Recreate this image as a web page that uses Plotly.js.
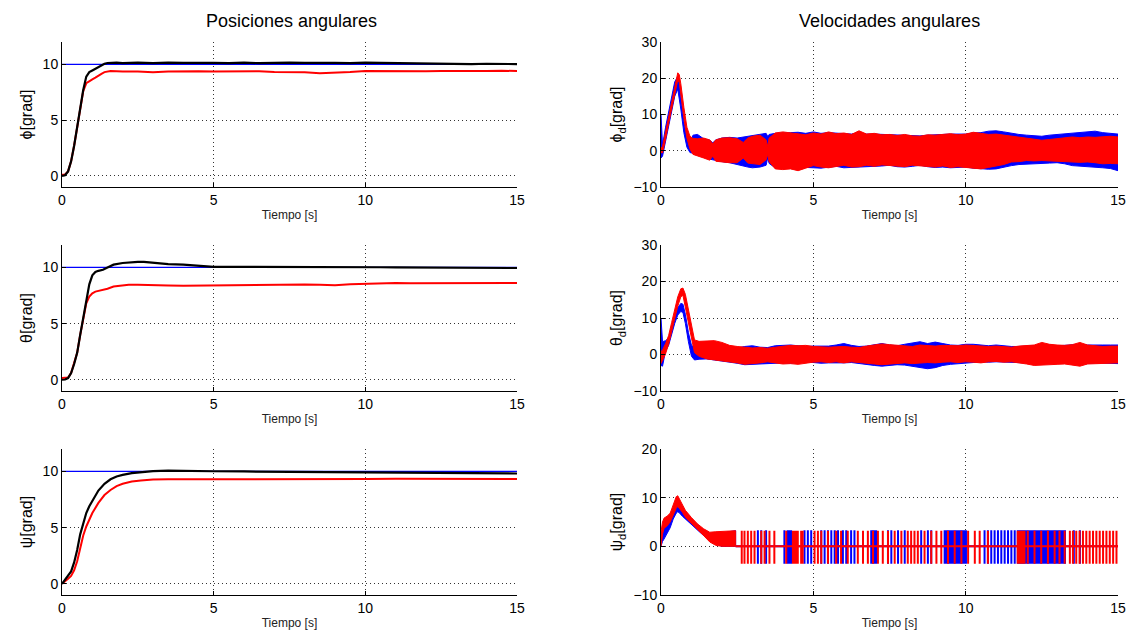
<!DOCTYPE html>
<html><head><meta charset="utf-8">
<script src="https://cdn.plot.ly/plotly-3.0.1.min.js"></script>
<style>html,body{margin:0;padding:0;background:#fff}#plot{width:1135px;height:635px}</style>
</head><body><div id="plot"></div>
<script>
// ---------------- DATA ----------------
var refValue = 10;
var refT = [0, 15];

// Positions: phi
var tPhi = [0,0.1,0.2,0.3,0.4,0.5,0.6,0.7,0.8,0.9,1.0,1.1,1.2,1.3,1.4,1.5,1.6,1.8,2.0,2.5,3,3.5,4,4.5,5,5.5,6,6.5,7,7.5,8,8.5,9,9.5,10,10.5,11,11.5,12,12.5,13,13.5,14,14.5,15];
var phiBlack = [0,0.05,0.4,1.3,2.7,4.4,6.0,7.7,8.9,9.3,9.45,9.6,9.75,9.9,10.05,10.12,10.15,10.15,10.1,10.15,10.1,10.15,10.12,10.15,10.12,10.1,10.15,10.1,10.15,10.15,10.12,10.15,10.12,10.1,10.15,10.12,10.1,10.1,10.05,10.05,10.05,10.02,10.05,10.02,10.02];
var phiRed = [0.1,0.12,0.4,1.3,2.7,4.4,6.0,7.6,8.3,8.5,8.65,8.8,9.0,9.15,9.3,9.38,9.4,9.38,9.35,9.35,9.28,9.35,9.38,9.38,9.35,9.38,9.36,9.38,9.3,9.32,9.28,9.2,9.22,9.3,9.4,9.38,9.4,9.4,9.38,9.4,9.38,9.4,9.4,9.42,9.4];

// Positions: theta
var tTheta = [0,0.1,0.2,0.3,0.4,0.5,0.6,0.7,0.8,0.9,1.0,1.1,1.2,1.35,1.5,1.7,2.0,2.2,2.5,2.7,3.0,3.5,4.0,4.5,5,5.5,6,6.5,7,7.5,8,8.5,9,9.5,10,10.5,11,11.5,12,12.5,13,13.5,14,14.5,15];
var thetaBlack = [0,0.02,0.15,0.6,1.4,2.4,4.0,5.5,7.1,8.5,9.3,9.6,9.7,9.8,10.0,10.25,10.4,10.45,10.5,10.5,10.42,10.3,10.25,10.15,10.05,10.05,10.05,10.08,10.05,10.05,10.08,10.05,10.02,10.05,10.05,10.02,10.0,10.0,9.95,9.95,9.97,9.95,9.97,9.97,9.95];
var thetaRed = [0.15,0.15,0.2,0.6,1.4,2.4,4.0,5.4,6.8,7.4,7.7,7.85,7.9,8.0,8.1,8.3,8.4,8.45,8.45,8.45,8.45,8.4,8.38,8.4,8.4,8.42,8.45,8.48,8.5,8.5,8.48,8.45,8.42,8.5,8.55,8.6,8.62,8.6,8.6,8.6,8.6,8.6,8.6,8.62,8.62];

// Positions: psi
var tPsi = [0,0.1,0.2,0.3,0.4,0.5,0.6,0.7,0.8,0.9,1.0,1.2,1.4,1.6,1.8,2.0,2.3,2.6,3.0,3.5,4,5,6,7,8,9,10,11,12,13,14,15];
var psiBlack = [0,0.35,0.7,1.1,1.9,3.0,4.4,5.4,6.3,6.9,7.4,8.3,8.9,9.3,9.55,9.7,9.85,9.95,10.03,10.08,10.08,10.02,10.0,9.98,9.98,9.97,9.95,9.93,9.88,9.85,9.85,9.82];
var psiRed = [0,0.2,0.45,0.7,1.2,2.0,3.2,4.3,5.1,5.7,6.3,7.2,7.9,8.35,8.7,8.9,9.1,9.2,9.28,9.3,9.3,9.3,9.3,9.28,9.3,9.3,9.32,9.35,9.33,9.33,9.33,9.33];

// Velocities: phi_d (envelopes of the noisy bands)
var tPhiD = [0,0.05,0.15,0.25,0.35,0.45,0.55,0.6,0.65,0.75,0.85,0.95,1.05,1.2,1.4,1.6,1.7,1.8,2.0,2.25,2.5,2.7,2.85,3.0,3.25,3.45,3.5,3.55,3.75,4.0,4.25,4.5,4.75,5.0,5.25,5.5,5.75,6.0,6.25,6.5,6.75,7.0,7.25,7.5,7.75,8.0,8.25,8.5,8.75,9.0,9.25,9.5,9.75,10.0,10.25,10.5,10.75,11.0,11.25,11.5,11.75,12.0,12.25,12.5,12.75,13.0,13.25,13.5,13.75,14.0,14.25,14.5,14.75,15];
var phiDRedUp = [0.8,1.2,5.2,9.5,13.6,18.2,21.5,21,18.5,12,6.5,4,3.4,3.3,3.5,3.0,1.9,3.0,3.5,3.6,3.3,2.3,3.5,4.0,4.3,3.0,1.2,3.5,4.9,5.2,4.9,4.8,4.4,4.9,4.6,5.2,4.7,4.9,4.5,5.5,4.6,4.8,4.4,4.5,4.2,4.5,4.1,4.0,4.4,4.3,4.6,4.7,4.4,4.6,5.1,4.7,4.5,4.6,4.3,4.0,3.6,3.3,3.2,2.9,3.1,3.3,3.4,3.8,3.6,3.8,3.7,3.8,4.0,3.8];
var phiDRedLo = [-0.5,-0.6,3.2,7.5,11.4,15.8,19.5,18.8,15.5,9,3.5,0.5,-1.0,-1.5,-2.0,-2.6,-1.5,-2.9,-3.1,-3.3,-3.3,-2.0,-3.4,-3.6,-3.8,-2.5,-1.0,-3.0,-5.0,-5.2,-5.0,-5.5,-4.8,-4.1,-4.5,-4.7,-4.3,-4.0,-4.5,-4.4,-4.0,-4.3,-3.9,-4.0,-4.3,-4.4,-4.0,-4.0,-4.3,-4.5,-4.2,-4.6,-4.4,-4.5,-4.8,-5.0,-4.6,-4.1,-3.8,-3.1,-3.0,-2.7,-2.8,-2.7,-2.6,-2.7,-2.9,-3.1,-3.2,-3.1,-3.3,-3.6,-3.5,-3.6];
var phiDBlueUp = [10,1.5,6.5,10.5,15,19,20.5,19,15,8,3.5,2,4.3,4.5,3.3,2.9,2.2,3.0,3.5,3.7,3.5,3.8,4.0,4.3,4.6,4.8,4.0,4.5,4.8,5.0,5.0,5.1,4.8,5.2,4.8,5.0,4.8,4.8,4.6,5.0,4.6,4.6,4.5,4.4,4.3,4.4,4.2,4.1,4.3,4.3,4.5,4.6,4.5,4.6,4.9,5.0,5.4,5.5,5.2,4.8,4.5,4.3,4.2,4.0,4.3,4.5,4.6,4.8,5.0,5.2,5.4,5.0,4.9,4.6];
var phiDBlueLo = [-2,-1.5,3,7,11,15,17,15,11.5,5,1,-0.5,-0.8,-1.0,-1.8,-2.3,-2.5,-2.8,-3.0,-3.3,-3.6,-4.2,-4.5,-4.7,-4.5,-4.0,-2.0,-3.5,-4.7,-4.8,-5.0,-5.0,-4.6,-4.7,-4.8,-4.5,-4.3,-4.7,-4.5,-4.6,-4.5,-4.3,-4.2,-4.0,-4.4,-4.5,-4.3,-4.0,-4.4,-4.6,-4.5,-4.7,-4.6,-4.5,-4.8,-5.0,-5.1,-5.0,-4.6,-4.1,-3.8,-3.6,-3.6,-3.5,-3.4,-3.3,-3.6,-4.1,-4.3,-4.5,-4.6,-4.7,-4.9,-5.5];

// Velocities: theta_d
var tThetaD = [0,0.05,0.15,0.25,0.35,0.45,0.55,0.65,0.72,0.8,0.9,1.0,1.1,1.25,1.5,1.75,2.0,2.25,2.5,2.75,3.0,3.25,3.5,3.75,4.0,4.25,4.5,4.75,5.0,5.25,5.5,5.75,6.0,6.25,6.5,6.75,7.0,7.25,7.5,7.75,8.0,8.25,8.5,8.75,9.0,9.25,9.5,9.75,10.0,10.25,10.5,10.75,11.0,11.25,11.5,11.75,12.0,12.25,12.5,12.75,13.0,13.25,13.5,13.75,14.0,14.25,14.5,14.75,15];
var thetaDRedUp = [0.8,1.2,3,5.2,8.8,12.2,15.8,18,18.2,16.5,12,7.5,4,3.6,3.6,3.8,3.3,2.5,2.2,2.0,1.8,1.9,1.7,2.0,2.3,2.5,2.4,2.5,2.2,2.0,2.0,2.1,2.2,2.0,1.9,2.3,2.6,2.9,2.7,2.5,2.4,2.2,2.6,2.5,2.3,2.5,2.4,2.4,2.6,2.4,2.3,2.2,2.3,2.1,2.0,2.3,2.5,2.6,3.3,2.8,2.6,2.5,2.7,3.3,2.6,2.4,2.2,2.3,2.3];
var thetaDRedLo = [-2.5,-1.5,0.2,2.8,6.2,9.8,13.2,15.8,16.2,13.5,9,4.5,0.5,-0.5,-1.2,-1.3,-1.7,-2.0,-2.3,-2.7,-2.5,-2.3,-2.0,-2.3,-2.6,-2.5,-2.7,-2.3,-2.1,-2.0,-2.2,-2.0,-2.3,-2.0,-2.2,-2.4,-2.6,-2.8,-2.6,-2.4,-2.3,-2.5,-2.4,-2.2,-2.3,-2.1,-2.0,-2.2,-2.0,-2.1,-2.3,-2.0,-1.9,-2.1,-2.0,-2.3,-2.6,-3.0,-2.9,-2.8,-2.7,-2.6,-2.8,-3.2,-2.6,-2.5,-2.4,-2.4,-2.3];
var thetaDBlueUp = [10,3.5,3.8,4.5,7.5,10.5,12.8,14,13.8,11,6,2.5,2,2.5,2.5,2.8,2.5,2.0,1.8,2.2,2.4,2.0,1.9,2.4,2.6,2.6,2.4,2.2,2.3,2.2,2.3,2.6,3.0,2.5,2.2,2.3,2.6,3.0,2.6,2.4,2.8,3.2,3.5,3.0,3.4,3.0,2.6,2.5,2.8,2.8,2.6,2.4,2.6,2.3,2.2,2.2,2.3,2.4,2.8,2.5,2.4,2.5,2.6,2.8,2.6,2.7,2.6,2.6,2.6];
var thetaDBlueLo = [-3.0,-3.2,1.0,2.5,5.5,8.5,10.8,11.8,11.5,8.5,3.5,-0.5,-1.5,-1.3,-1.2,-1.5,-1.8,-2.0,-2.4,-2.8,-2.9,-2.7,-2.5,-2.4,-2.3,-2.4,-2.2,-2.0,-2.2,-2.4,-2.3,-2.2,-2.3,-2.2,-2.4,-2.8,-3.0,-3.2,-3.0,-2.8,-2.9,-3.3,-3.5,-3.9,-3.6,-3.0,-2.7,-2.5,-2.3,-2.2,-2.0,-2.1,-2.0,-2.2,-2.3,-2.2,-2.3,-2.6,-2.5,-2.6,-2.5,-2.4,-2.5,-2.6,-2.5,-2.3,-2.2,-2.4,-2.5];

// Velocities: psi_d (early band, then switching spikes around zero)
var tPsiD = [0,0.05,0.1,0.2,0.3,0.4,0.5,0.55,0.6,0.7,0.8,1.0,1.2,1.4,1.6,1.8,2.0,2.2,2.45];
var psiDRedUp = [3,5,5.8,6.2,6.8,8.5,10.2,10.4,9.8,8.6,7.4,5.9,4.6,3.6,2.9,3.0,3.1,3.2,3.2];
var psiDRedLo = [0,2.5,3.7,4.2,5.0,6.3,7.8,8.2,7.9,7.0,6.0,4.6,3.4,2.2,0.9,0.2,0,0,0];
var psiDBlueUp = [2,3.5,4.0,4.8,6.0,7.4,8.4,8.6,8.3,7.4,6.6,5.4,4.3,3.3,2.6,2.2,2.5,3.0,3.2];
var psiDBlueLo = [0,1.0,1.5,2.5,3.8,5.6,6.8,7.1,6.9,6.2,5.6,4.4,3.3,2.2,1.2,0.5,0,0,0];
var psiSpikeHi = 3.2, psiSpikeLo = -3.6;
var psiRedSpikes = [2.65,2.74,2.85,2.96,3.07,3.29,3.4,3.56,3.72,4.11,4.33,4.38,4.44,4.49,4.6,4.65,5.04,5.15,5.26,5.48,5.75,5.91,6.13,6.46,6.63,6.79,6.96,7.12,7.28,7.45,7.67,7.89,8.1,8.21,8.32,8.43,8.65,8.87,9.04,9.2,9.42,9.64,9.86,10.08,10.3,10.46,10.73,11.71,11.76,11.82,11.87,11.93,12.04,12.26,12.48,12.7,12.92,13.08,13.25,13.42,13.52,13.63,13.74,13.85,13.96,14.07,14.18,14.29,14.4,14.51,14.62,14.73,14.84,14.95];
var psiBlueSpikes = [3.18,3.29,3.45,4.05,4.16,4.22,4.27,4.71,4.82,4.93,5.26,5.37,5.48,5.59,5.70,5.81,5.97,6.08,6.24,6.35,6.90,6.96,7.01,7.06,7.45,7.56,7.78,8.00,8.54,8.76,8.87,9.31,9.36,9.41,9.46,9.51,9.56,9.61,9.66,9.71,9.76,9.81,9.86,9.91,9.96,10.01,10.62,10.73,10.84,10.95,11.06,11.17,11.28,11.39,11.50,11.61,11.71,11.76,11.81,11.86,11.91,11.96,12.01,12.06,12.11,12.16,12.21,12.26,12.31,12.36,12.41,12.46,12.51,12.56,12.61,12.66,12.71,12.76,12.81,12.86,12.91,12.96,13.01,13.06,13.11,13.16,13.21,13.26,13.55,13.75];

var colTitles = ['Posiciones angulares', 'Velocidades angulares'];
var xTitle = 'Tiempo [s]';
var yTitlesLeft = ['\u03d5[grad]', '\u03b8[grad]', '\u03c8[grad]'];
var yTitlesRight = ['\u03d5<sub>d</sub>[grad]', '\u03b8<sub>d</sub>[grad]', '\u03c8<sub>d</sub>[grad]'];

// ---------------- BUILD ----------------
var BLUE = '#0000ff', RED = '#ff0000', BLACK = '#000000';
var traces = [];
function line(x, y, color, w, xa, ya) {
  traces.push({x: x, y: y, mode: 'lines', line: {color: color, width: w}, xaxis: xa, yaxis: ya, hoverinfo: 'skip', showlegend: false});
}
function band(t, up, lo, color, xa, ya) {
  var rt = t.slice().reverse(), rl = lo.slice().reverse();
  traces.push({x: t.concat(rt), y: up.concat(rl), mode: 'lines', fill: 'toself', fillcolor: color,
    line: {color: color, width: 1}, xaxis: xa, yaxis: ya, hoverinfo: 'skip', showlegend: false});
}
function spikes(times, hi, lo, t0, t1, color, w, xa, ya) {
  var x = [t0], y = [0];
  times.forEach(function (t) { x.push(t, t, t, t); y.push(0, hi, lo, 0); });
  x.push(t1); y.push(0);
  traces.push({x: x, y: y, mode: 'lines', line: {color: color, width: w}, xaxis: xa, yaxis: ya, hoverinfo: 'skip', showlegend: false});
}
var ref = [refValue, refValue];

// Row 1
line(refT, ref, BLUE, 1.2, 'x', 'y');
line(tPhi, phiRed, RED, 2, 'x', 'y');
line(tPhi, phiBlack, BLACK, 2.2, 'x', 'y');
band(tPhiD, phiDBlueUp, phiDBlueLo, BLUE, 'x2', 'y2');
band(tPhiD, phiDRedUp, phiDRedLo, RED, 'x2', 'y2');
// Row 2
line(refT, ref, BLUE, 1.2, 'x3', 'y3');
line(tTheta, thetaRed, RED, 2, 'x3', 'y3');
line(tTheta, thetaBlack, BLACK, 2.2, 'x3', 'y3');
band(tThetaD, thetaDBlueUp, thetaDBlueLo, BLUE, 'x4', 'y4');
band(tThetaD, thetaDRedUp, thetaDRedLo, RED, 'x4', 'y4');
// Row 3
line(refT, ref, BLUE, 1.2, 'x5', 'y5');
line(tPsi, psiRed, RED, 2, 'x5', 'y5');
line(tPsi, psiBlack, BLACK, 2.2, 'x5', 'y5');
band(tPsiD, psiDBlueUp, psiDBlueLo, BLUE, 'x6', 'y6');
spikes(psiBlueSpikes, psiSpikeHi + 0.1, psiSpikeLo, 2.45, 15, BLUE, 2, 'x6', 'y6');
band(tPsiD, psiDRedUp, psiDRedLo, RED, 'x6', 'y6');
spikes(psiRedSpikes, psiSpikeHi, psiSpikeLo, 2.45, 15, RED, 2, 'x6', 'y6');

var W = 1135, H = 635;
var FONT = 'Liberation Sans, Arial, Helvetica, sans-serif';
var colX = [[62, 517], [661, 1118]];
var rowY = [[42, 187], [245, 391], [449, 595]];
function xd(c) { return [colX[c][0] / W, colX[c][1] / W]; }
function yd(r) { return [1 - rowY[r][1] / H, 1 - rowY[r][0] / H]; }
var GRID = '1px,3px';
function xax(c, r, anchor) {
  return {domain: xd(c), anchor: anchor, range: [0, 15], tickvals: [0, 5, 10, 15], ticktext: ['0','5','10','15'],
    showline: true, linecolor: BLACK, linewidth: 1, mirror: false, ticks: 'inside', ticklen: 4, tickcolor: BLACK,
    showgrid: true, gridcolor: '#333', gridwidth: 1, griddash: GRID, zeroline: false,
    tickfont: {family: FONT, size: 14, color: BLACK},
    title: {text: xTitle, font: {family: FONT, size: 12, color: '#222'}, standoff: 3}};
}
function yax(c, r, anchor, range, tv) {
  return {domain: yd(r), anchor: anchor, range: range, tickvals: tv,
    showline: true, linecolor: BLACK, linewidth: 1, mirror: false, ticks: 'inside', ticklen: 4, tickcolor: BLACK,
    showgrid: true, gridcolor: '#333', gridwidth: 1, griddash: GRID, zeroline: false,
    tickfont: {family: FONT, size: 14, color: BLACK},
    title: {text: c === 0 ? yTitlesLeft[r] : yTitlesRight[r], font: {family: FONT, size: 16, color: BLACK}, standoff: 6}};
}
var layout = {
  width: W, height: H, margin: {l: 0, r: 0, t: 0, b: 0}, paper_bgcolor: '#fff', plot_bgcolor: '#fff',
  showlegend: false, font: {family: FONT, color: BLACK},
  xaxis: xax(0, 0, 'y'), yaxis: yax(0, 0, 'x', [-1, 12], [0, 5, 10]),
  xaxis2: xax(1, 0, 'y2'), yaxis2: yax(1, 0, 'x2', [-10, 30], [-10, 0, 10, 20, 30]),
  xaxis3: xax(0, 1, 'y3'), yaxis3: yax(0, 1, 'x3', [-1, 12], [0, 5, 10]),
  xaxis4: xax(1, 1, 'y4'), yaxis4: yax(1, 1, 'x4', [-10, 30], [-10, 0, 10, 20, 30]),
  xaxis5: xax(0, 2, 'y5'), yaxis5: yax(0, 2, 'x5', [-1, 12], [0, 5, 10]),
  xaxis6: xax(1, 2, 'y6'), yaxis6: yax(1, 2, 'x6', [-10, 20], [-10, 0, 10, 20]),
  annotations: [
    {text: colTitles[0], xref: 'paper', yref: 'paper', x: 291 / W, y: 1 - 21 / H, showarrow: false, xanchor: 'center', yanchor: 'middle', font: {family: FONT, size: 18, color: BLACK}},
    {text: colTitles[1], xref: 'paper', yref: 'paper', x: 889 / W, y: 1 - 21 / H, showarrow: false, xanchor: 'center', yanchor: 'middle', font: {family: FONT, size: 18, color: BLACK}}
  ]
};
Plotly.newPlot('plot', traces, layout, {staticPlot: true, displayModeBar: false});
</script></body></html>
